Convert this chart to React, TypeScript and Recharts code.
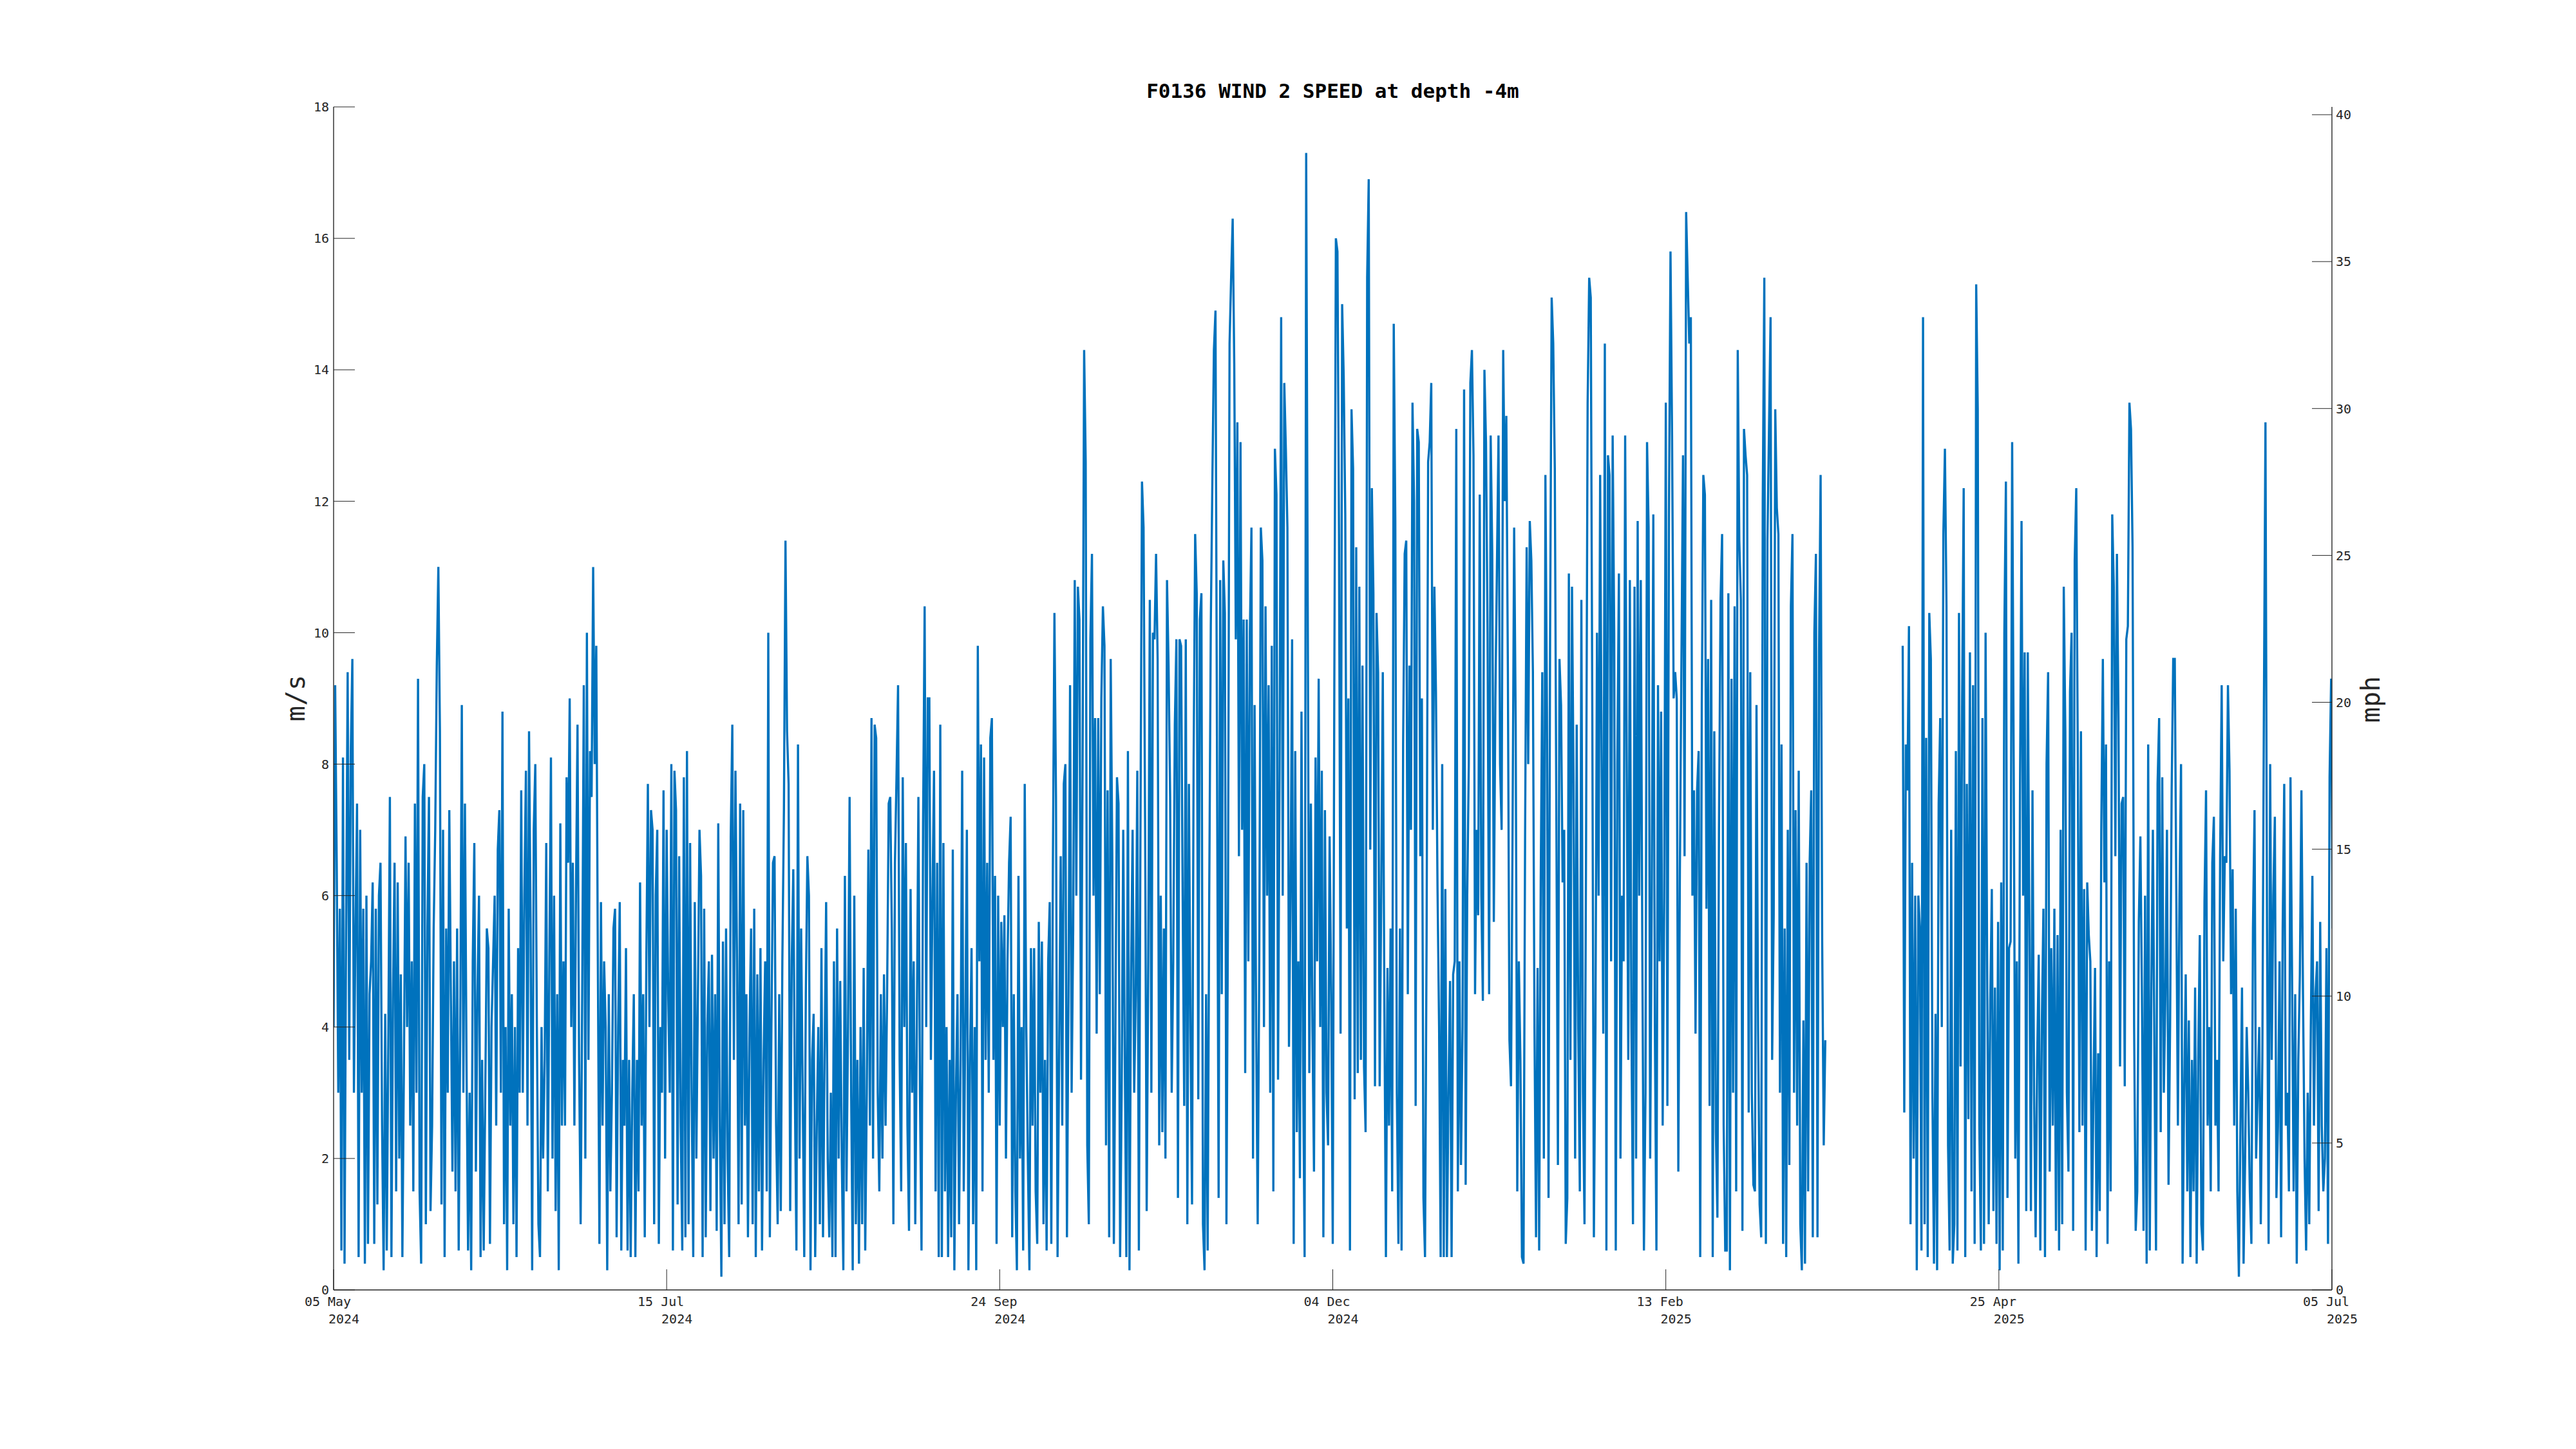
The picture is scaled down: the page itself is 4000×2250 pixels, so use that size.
import { LineChart, Line, XAxis, YAxis } from "recharts";

const TITLE = "F0136 WIND 2 SPEED at depth -4m";
const LEFT_LABEL = "m/s";
const RIGHT_LABEL = "mph";

// x axis is in days since 05 May 2024
const TICK_DAYS = [0, 71, 142, 213, 284, 355, 426];
const TICK_MONTHS = ["05 May", "15 Jul", "24 Sep", "04 Dec", "13 Feb", "25 Apr", "05 Jul"];
const TICK_YEARS = ["2024", "2024", "2024", "2024", "2025", "2025", "2025"];
const MS_TICKS = [0, 2, 4, 6, 8, 10, 12, 14, 16, 18];
const MPH_TICKS = [0, 5, 10, 15, 20, 25, 30, 35, 40];
const MPH_PER_MS = 2.23694;

// wind speed in m/s, one reading every 8 hours
const STEP_DAYS = 1 / 3;

// 05 May -> 15 Jul 2024
const SEG_A = [
  4.0, 9.2, 6.5, 3.0, 5.8, 0.6, 8.1, 0.4, 5.5, 9.4, 3.5, 8.2, 9.6, 3.0, 5.5, 7.4, 0.5, 7.0,
  3.0, 5.8, 0.4, 6.0, 0.7, 4.5, 5.0, 6.2, 0.7, 5.8, 1.3, 6.0, 6.5, 2.5, 0.3, 4.2, 0.6, 3.8,
  7.5, 0.5, 4.5, 6.5, 1.5, 6.2, 2.0, 4.8, 0.5, 3.5, 6.9, 4.0, 6.5, 2.5, 5.0, 1.5, 7.4, 3.0,
  9.3, 1.5, 0.4, 7.5, 8.0, 1.0, 5.5, 7.5, 1.2, 2.5, 5.5, 7.0, 9.5, 11.0, 8.5, 1.3, 7.0, 0.5,
  5.5, 3.0, 7.3, 4.5, 1.8, 5.0, 1.5, 5.5, 0.6, 4.0, 8.9, 3.0, 7.4, 3.5, 0.6, 3.0, 0.3, 5.0,
  6.8, 1.8, 4.5, 6.0, 0.5, 3.5, 0.6, 3.0, 5.5, 5.2, 0.7, 4.0, 5.0, 6.0, 2.5, 6.7, 7.3, 3.0,
  8.8, 1.0, 4.0, 0.3, 5.8, 2.5, 4.5, 1.0, 4.0, 0.5, 5.2, 3.0, 7.6, 3.0, 6.0, 7.9, 2.5, 8.5,
  5.5, 0.3, 7.0, 8.0, 4.0, 1.0, 0.5, 4.0, 2.0, 3.5, 6.8, 1.5, 5.0, 8.1, 2.0, 6.0, 1.2, 4.5,
  0.3, 7.1, 2.5, 5.0, 2.5, 7.8, 6.5, 9.0, 4.0, 6.5, 2.5, 6.0, 8.6, 3.5, 1.0, 4.5, 9.2, 2.0,
  10.0, 3.5, 8.2, 7.5, 11.0, 8.0, 9.8, 5.0, 0.7, 5.9, 2.5, 5.0, 4.0, 0.3, 4.5, 1.5, 3.0, 5.5,
  5.8, 0.8, 4.0, 5.9, 0.6, 3.5, 2.5, 5.2, 0.6, 3.5, 0.5, 3.0, 4.5, 0.5, 3.5, 1.5, 6.2, 2.5,
  4.5, 0.8, 5.0, 7.7, 4.0, 7.3, 7.0, 1.0, 6.0, 7.0, 0.7, 4.0, 3.0, 7.6, 2.0, 7.0, 4.5, 3.0,
];

// 16 Jul -> 24 Sep 2024
const SEG_B = [
  8.0, 0.6, 7.9, 7.3, 1.3, 6.6, 2.5, 0.6, 7.8, 0.8, 8.2, 1.0, 6.8, 3.0, 0.5, 5.9, 2.0, 4.5,
  7.0, 6.3, 0.5, 5.8, 0.8, 4.0, 5.0, 1.2, 5.1, 2.0, 4.5, 0.9, 7.1, 2.5, 0.2, 5.3, 1.0, 5.5,
  2.0, 0.5, 6.9, 8.6, 3.5, 7.9, 5.0, 1.0, 7.4, 1.3, 7.3, 2.5, 4.5, 0.8, 4.0, 5.5, 1.0, 5.8,
  0.5, 4.8, 1.5, 5.2, 0.6, 3.5, 5.0, 1.5, 10.0, 0.8, 4.0, 6.5, 6.6, 2.5, 1.0, 4.5, 1.2, 5.0,
  7.3, 11.4, 8.5, 7.7, 1.2, 5.0, 6.4, 3.0, 0.6, 8.3, 2.0, 5.5, 3.0, 0.5, 4.5, 6.6, 6.0, 0.3,
  3.5, 4.2, 0.5, 2.5, 4.0, 1.0, 5.2, 0.8, 3.5, 5.9, 2.0, 0.8, 3.0, 0.5, 5.0, 0.5, 5.5, 2.0,
  4.7, 2.0, 0.3, 6.3, 1.5, 4.0, 7.5, 3.0, 0.3, 6.0, 1.0, 3.5, 0.4, 4.0, 1.0, 4.9, 0.6, 3.0,
  6.7, 2.5, 8.7, 2.0, 8.6, 8.4, 3.0, 1.5, 4.5, 2.0, 4.8, 2.5, 4.5, 7.4, 7.5, 5.5, 1.0, 6.5,
  7.8, 9.2, 3.5, 1.5, 7.8, 4.0, 6.8, 2.5, 0.9, 6.1, 3.0, 5.0, 1.0, 4.0, 7.5, 3.0, 0.6, 7.1,
  10.4, 4.0, 9.0, 9.0, 3.5, 6.0, 7.9, 1.5, 6.5, 0.5, 8.6, 0.5, 6.8, 1.5, 4.0, 0.5, 3.5, 0.8,
  6.7, 0.3, 3.0, 4.5, 1.0, 3.5, 7.9, 1.5, 4.0, 7.0, 0.3, 3.5, 5.2, 1.0, 4.0, 0.3, 9.8, 5.0,
  8.3, 1.5, 8.1, 3.5, 6.5, 3.0, 8.4, 8.7, 3.5, 6.3, 0.7, 6.0, 2.5, 5.6, 4.0,
];

// 25 Sep -> 04 Dec 2024
const SEG_C = [
  5.7, 2.0, 5.0, 6.5, 7.2, 0.8, 4.5, 1.5, 0.3, 6.3, 2.0, 4.0, 0.6, 7.7, 4.0, 2.0, 0.3, 5.2,
  2.5, 5.2, 1.5, 0.7, 5.6, 3.0, 5.3, 1.0, 3.5, 0.6, 5.0, 5.9, 0.7, 6.4, 10.3, 7.5, 0.5, 3.5,
  6.6, 2.5, 7.7, 8.0, 0.8, 4.5, 9.2, 3.0, 5.5, 10.8, 6.0, 10.7, 10.2, 3.2, 8.0, 14.3, 12.6, 2.2,
  1.0, 9.9, 11.2, 6.0, 8.7, 3.9, 8.7, 4.5, 9.0, 10.4, 9.8, 2.2, 7.6, 0.8, 9.6, 6.6, 0.7, 4.0,
  7.8, 7.4, 0.5, 3.0, 7.0, 3.5, 0.5, 8.2, 0.3, 4.8, 7.0, 3.0, 4.5, 7.9, 0.6, 6.9, 12.3, 11.6,
  7.0, 1.2, 5.0, 10.5, 3.0, 10.0, 9.9, 11.2, 9.6, 2.2, 6.0, 2.4, 5.5, 2.0, 10.8, 9.5, 7.5, 3.0,
  5.0, 8.6, 9.9, 1.4, 9.9, 9.8, 6.0, 2.8, 9.9, 1.0, 7.7, 4.0, 1.3, 8.0, 11.5, 10.6, 2.9, 10.2,
  10.6, 1.0, 0.3, 4.5, 0.6, 6.0, 10.1, 12.3, 14.3, 14.9, 8.0, 1.4, 10.8, 4.5, 11.1, 10.3, 1.0, 5.8,
  14.4, 15.4, 16.3, 14.1, 9.9, 13.2, 6.6, 12.9, 7.0, 10.2, 3.3, 10.2, 5.0, 10.0, 11.6, 2.0, 8.9, 4.0,
  1.0, 5.0, 11.6, 11.1, 4.0, 10.4, 6.0, 9.2, 3.0, 9.8, 1.5, 12.8, 12.1, 3.2, 8.0, 14.8, 6.0, 13.8,
  12.8, 11.6, 3.7, 6.0, 9.9, 0.7, 8.2, 2.4, 5.0, 1.7, 8.8, 3.5, 0.5, 17.3, 10.4, 3.3, 7.4, 4.0,
  1.8, 8.1, 5.0, 9.3, 4.0, 7.9, 0.8, 7.3, 3.0, 2.2, 6.9, 4.5, 0.7, 9.2, 16.0,
];

// 05 Dec 2024 -> 13 Feb 2025
const SEG_D = [
  15.8, 11.5, 3.9, 15.0, 13.9, 11.8, 5.5, 9.0, 0.6, 13.4, 12.5, 2.9, 11.3, 3.3, 10.7, 3.5, 9.5, 3.4,
  2.4, 15.4, 16.9, 6.7, 12.2, 10.6, 3.1, 10.3, 9.4, 3.1, 6.0, 9.4, 4.4, 0.5, 4.9, 2.5, 5.5, 1.5,
  14.7, 11.7, 3.0, 0.7, 5.5, 0.6, 8.3, 11.2, 11.4, 4.5, 9.5, 7.0, 13.5, 12.0, 2.8, 13.1, 12.9, 6.6,
  9.0, 1.4, 0.5, 5.3, 12.6, 12.9, 13.8, 7.0, 10.7, 9.1, 6.1, 4.0, 0.5, 8.0, 0.5, 6.1, 0.5, 3.0,
  4.7, 0.5, 4.8, 5.0, 13.1, 1.5, 5.0, 1.9, 4.0, 13.7, 1.6, 6.0, 8.0, 13.8, 14.3, 12.7, 4.5, 7.0,
  5.7, 12.1, 6.0, 4.4, 14.0, 12.9, 10.0, 4.5, 13.0, 11.2, 5.6, 9.0, 11.0, 13.0, 8.0, 7.0, 14.3, 12.0,
  13.3, 9.4, 3.8, 3.1, 7.0, 11.6, 8.6, 1.5, 5.0, 3.5, 0.5, 0.4, 6.9, 11.3, 8.0, 11.7, 11.1, 9.4,
  4.0, 0.8, 4.9, 0.6, 6.2, 9.4, 2.0, 12.4, 8.8, 1.4, 10.0, 15.1, 14.4, 12.5, 7.2, 1.9, 9.6, 8.9,
  6.2, 7.0, 0.7, 1.4, 10.9, 3.5, 10.7, 7.7, 2.0, 8.6, 4.0, 1.5, 10.5, 3.0, 1.0, 6.8, 13.5, 15.4,
  15.1, 8.7, 0.8, 4.0, 10.0, 6.0, 12.4, 7.8, 3.9, 14.4, 0.6, 12.7, 12.4, 5.0, 13.0, 10.0, 0.6, 8.0,
  10.9, 2.0, 6.0, 5.0, 13.0, 8.0, 3.5, 10.8, 4.0, 1.0, 10.7, 2.0, 11.7, 6.0, 10.8, 5.0, 0.6, 3.0,
  12.9, 11.6, 2.0, 6.0, 11.8, 4.0, 0.6, 9.2, 5.0, 8.8, 2.5, 6.0, 13.5, 2.8, 11.8, 15.8, 13.0, 9.0,
];

// 14 Feb -> 19 Mar 2025
const SEG_E = [
  9.4, 9.0, 1.8, 6.4, 9.6, 12.7, 6.6, 16.4, 15.4, 14.4, 14.8, 6.0, 7.6, 3.9, 7.6, 8.2, 0.5, 8.9,
  12.4, 12.1, 5.8, 9.6, 2.8, 10.5, 0.5, 8.5, 2.4, 1.1, 7.0, 10.5, 11.5, 2.5, 0.6, 0.6, 10.6, 0.3,
  9.3, 3.0, 10.4, 1.5, 14.3, 11.4, 10.5, 0.9, 13.1, 12.7, 12.4, 2.7, 9.4, 3.0, 1.6, 1.5, 8.9, 4.0,
  1.3, 0.8, 12.0, 15.4, 0.7, 11.4, 13.1, 14.8, 3.5, 5.7, 13.4, 11.9, 11.5, 3.0, 8.3, 0.7, 5.5, 0.5,
  7.0, 1.9, 10.4, 11.5, 3.0, 7.3, 2.5, 7.9, 1.0, 0.3, 4.1, 0.4, 6.5, 1.5, 6.5, 7.6, 0.8, 10.0,
  11.2, 0.8, 9.7, 12.4, 5.3, 2.2, 3.8,
];

// no readings between the two segments (about 19 Mar -> 04 Apr 2025)
const GAP_DAY = 326;

// 04 Apr -> 05 Jul 2025
const SEG_F = [
  9.8, 2.7, 8.3, 7.6, 10.1, 1.0, 6.5, 2.0, 6.0, 0.3, 6.0, 5.5, 0.6, 14.8, 1.0, 8.4, 0.5, 10.3,
  9.6, 3.0, 0.4, 4.2, 0.3, 7.4, 8.7, 4.0, 11.5, 12.8, 10.4, 2.2, 0.6, 7.0, 0.4, 1.0, 8.2, 0.6,
  10.3, 3.4, 9.0, 12.2, 0.5, 7.7, 2.6, 9.7, 1.5, 9.2, 0.7, 15.3, 13.4, 2.5, 0.6, 8.7, 0.7, 10.0,
  5.0, 1.0, 4.4, 6.1, 1.2, 4.6, 0.7, 5.6, 0.3, 6.2, 0.6, 10.0, 12.3, 1.4, 5.2, 5.3, 12.9, 7.9,
  2.0, 5.0, 0.4, 7.5, 11.7, 6.0, 9.7, 1.2, 9.7, 5.5, 1.2, 7.6, 3.0, 0.8, 3.5, 5.1, 0.6, 4.1,
  5.8, 0.5, 8.0, 9.4, 1.8, 5.2, 2.5, 5.8, 0.9, 5.4, 0.6, 7.0, 1.0, 10.7, 8.5, 3.0, 1.8, 9.1,
  10.0, 0.9, 11.1, 12.2, 8.0, 2.4, 8.5, 2.5, 6.1, 0.6, 6.2, 5.4, 5.0, 0.9, 3.0, 4.9, 0.5, 3.6,
  1.2, 7.0, 9.6, 6.2, 8.3, 0.7, 5.0, 1.5, 11.8, 10.7, 6.6, 11.2, 8.7, 3.4, 7.4, 7.5, 3.1, 9.9,
  10.1, 13.5, 13.1, 11.3, 4.0, 0.9, 1.5, 5.6, 6.9, 4.5, 0.9, 6.0, 0.4, 8.3, 0.6, 4.5, 7.0, 3.5,
  0.6, 7.7, 8.7, 2.4, 7.8, 3.0, 4.5, 7.0, 1.6, 4.0, 7.6, 9.6, 9.6, 5.9, 2.5, 6.0, 8.0, 0.4,
  3.0, 4.8, 1.5, 4.1, 0.5, 3.5, 1.5, 4.6, 0.4, 3.5, 5.4, 1.0, 0.6, 5.9, 7.6, 2.5, 4.0, 1.5,
  6.5, 7.2, 2.5, 3.5, 1.5, 6.6, 9.2, 5.0, 6.6, 6.5, 9.2, 7.9, 4.5, 6.4, 2.5, 5.8, 1.5, 0.2,
  2.5, 4.6, 0.4, 2.0, 4.0, 3.0, 1.5, 0.7, 5.5, 7.3, 2.0, 3.0, 4.0, 1.0, 3.5, 8.9, 13.2, 5.5,
  0.7, 8.0, 3.5, 6.0, 7.2, 1.4, 2.5, 5.0, 0.8, 5.5, 7.7, 2.5, 3.0, 1.5, 7.8, 4.8, 1.5, 4.5,
  0.4, 3.5, 4.8, 7.6, 4.5, 2.0, 0.6, 3.0, 1.0, 4.0, 6.3, 2.5, 4.5, 5.0, 1.2, 5.6, 2.5, 1.5,
  2.0, 5.2, 0.7, 7.8, 9.3, 5.5,
];

const SEGMENTS: [number, number[]][] = [
  [0, SEG_A],
  [72, SEG_B],
  [143, SEG_C],
  [214, SEG_D],
  [286, SEG_E],
  [334.5, SEG_F],
];

const rows: { t: number; ms: number | null; mph: number | null }[] = [];
SEGMENTS.forEach(([start, vals]) => {
  if (start === 334.5) rows.push({ t: GAP_DAY, ms: null, mph: null });
  vals.forEach((v, i) => rows.push({ t: start + i * STEP_DAYS, ms: v, mph: v * MPH_PER_MS }));
});

const INK = "#262626";
const MONO = "'DejaVu Sans Mono', monospace";

function LeftTick({ x, y, payload }: any) {
  return (
    <g>
      <line x1={x} x2={x + 33} y1={y} y2={y} stroke={INK} strokeWidth={1} />
      <text x={x - 7} y={y} dy="0.36em" textAnchor="end" fontSize={20} fill={INK} fontFamily={MONO}>
        {payload.value}
      </text>
    </g>
  );
}

function RightTick({ x, y, payload }: any) {
  return (
    <g>
      <line x1={x - 31} x2={x} y1={y} y2={y} stroke={INK} strokeWidth={1} />
      <text x={x + 6} y={y} dy="0.36em" textAnchor="start" fontSize={20} fill={INK} fontFamily={MONO}>
        {payload.value}
      </text>
    </g>
  );
}

function BottomTick({ x, y, payload }: any) {
  const i = TICK_DAYS.indexOf(payload.value);
  return (
    <g>
      <line x1={x} x2={x} y1={y} y2={y - 32} stroke={INK} strokeWidth={1} />
      <text x={x - 9} y={y + 25} textAnchor="middle" fontSize={20} fill={INK} fontFamily={MONO}>
        {TICK_MONTHS[i]}
      </text>
      <text x={x + 16} y={y + 52} textAnchor="middle" fontSize={20} fill={INK} fontFamily={MONO}>
        {TICK_YEARS[i]}
      </text>
    </g>
  );
}

export default function App() {
  return (
    <div style={{ position: "absolute", left: 0, top: 0, width: 4000, height: 2250, background: "#fff" }}>
      <LineChart
        width={4000}
        height={2250}
        data={rows}
        margin={{ top: 166, right: 299, bottom: 187, left: 438 }}
      >
        <XAxis
          dataKey="t"
          type="number"
          domain={[0, 426]}
          ticks={TICK_DAYS}
          interval={0}
          allowDataOverflow
          height={60}
          tickSize={0}
          tickMargin={0}
          tickLine={false}
          axisLine={{ stroke: INK, strokeWidth: 1.4 }}
          tick={<BottomTick />}
        />
        <YAxis
          yAxisId="ms"
          domain={[0, 18]}
          ticks={MS_TICKS}
          interval={0}
          allowDataOverflow
          width={80}
          tickSize={0}
          tickMargin={0}
          tickLine={false}
          axisLine={{ stroke: INK, strokeWidth: 1.4 }}
          tick={<LeftTick />}
        />
        <YAxis
          yAxisId="mph"
          orientation="right"
          domain={[0, 18 * MPH_PER_MS]}
          ticks={MPH_TICKS}
          interval={0}
          allowDataOverflow
          width={80}
          tickSize={0}
          tickMargin={0}
          tickLine={false}
          axisLine={{ stroke: INK, strokeWidth: 1.4 }}
          tick={<RightTick />}
        />
        <Line
          yAxisId="ms"
          dataKey="ms"
          type="linear"
          stroke="#0072BD"
          strokeWidth={3.4}
          strokeLinejoin="miter"
          dot={false}
          activeDot={false}
          connectNulls={false}
          isAnimationActive={false}
        />
        <Line
          yAxisId="mph"
          dataKey="mph"
          type="linear"
          stroke="#0072BD"
          strokeOpacity={0}
          dot={false}
          activeDot={false}
          isAnimationActive={false}
        />
      </LineChart>
      <svg
        width={4000}
        height={2250}
        style={{ position: "absolute", left: 0, top: 0, pointerEvents: "none" }}
      >
        <text x={2069.5} y={152} textAnchor="middle" fontSize={31} fontWeight="bold" fill="#000" fontFamily={MONO}>
          {TITLE}
        </text>
        <text
          transform="translate(473,1084) rotate(-90)"
          textAnchor="middle"
          fontSize={40}
          fill={INK}
          fontFamily={MONO}
        >
          {LEFT_LABEL}
        </text>
        <text
          transform="translate(3695,1086) rotate(-90)"
          textAnchor="middle"
          fontSize={40}
          fill={INK}
          fontFamily={MONO}
        >
          {RIGHT_LABEL}
        </text>
      </svg>
    </div>
  );
}
